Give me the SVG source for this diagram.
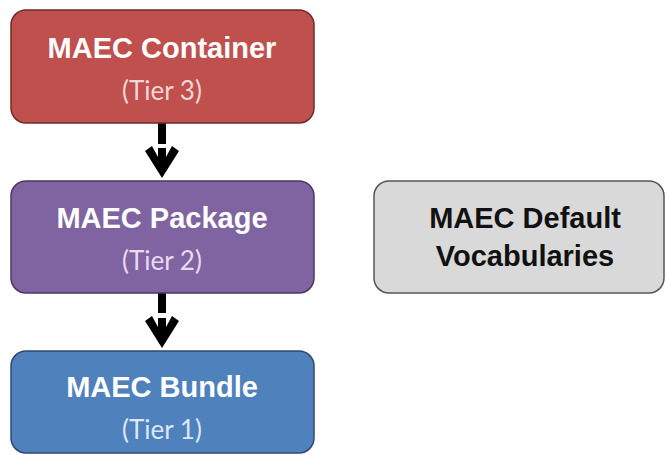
<svg xmlns="http://www.w3.org/2000/svg" width="665" height="455" viewBox="0 0 665 455">
  <defs>
    <!-- arrowhead with the shaft stub running into the V, tip at (0,0) -->
    <path id="head" d="M -17,-27 L -10,-32 L -4,-21 L -4,-30 L 4,-30 L 4,-21 L 10,-32 L 17,-27 L 0,0 Z" fill="#000000"/>
  </defs>
  <style>
    .box { stroke-width: 1.5; }
    .title { font-family: "Liberation Sans", Arial, sans-serif; font-weight: bold; font-size: 29px; text-anchor: middle; fill: #ffffff; }
    .tier { font-family: Lato, "Open Sans", sans-serif; font-size: 26px; text-anchor: middle; }
    .dark { fill: #111111; }
    .shaft { stroke: #000000; stroke-width: 8; fill: none; }
  </style>
  <rect width="665" height="455" fill="#ffffff"/>

  <g id="connectors">
    <line class="shaft" x1="162" y1="123" x2="162" y2="144"/>
    <use href="#head" x="162" y="178"/>
    <line class="shaft" x1="162" y1="293" x2="162" y2="313"/>
    <use href="#head" x="162" y="348"/>
  </g>

  <g id="container">
    <rect class="box" x="11" y="10" width="303" height="113" rx="15" fill="#c0504d" stroke="#6e2b29"/>
    <text class="title" x="162" y="58">MAEC Container</text>
    <text class="tier" x="162" y="100" fill="#f2d7d6">(Tier 3)</text>
  </g>

  <g id="package">
    <rect class="box" x="11" y="181" width="303" height="112" rx="15" fill="#8064a2" stroke="#4a3762"/>
    <text class="title" x="162" y="228">MAEC Package</text>
    <text class="tier" x="162" y="270" fill="#e6dcf0">(Tier 2)</text>
  </g>

  <g id="bundle">
    <rect class="box" x="11" y="351" width="303" height="102" rx="15" fill="#4f81bd" stroke="#2c4a70"/>
    <text class="title" x="162" y="397">MAEC Bundle</text>
    <text class="tier" x="162" y="439" fill="#dce8f5">(Tier 1)</text>
  </g>

  <g id="vocabularies">
    <rect class="box" x="374" y="181" width="290" height="112" rx="15" fill="#d9d9d9" stroke="#555555"/>
    <text class="title dark" x="525" y="228">MAEC Default</text>
    <text class="title dark" x="525" y="266">Vocabularies</text>
  </g>
</svg>
